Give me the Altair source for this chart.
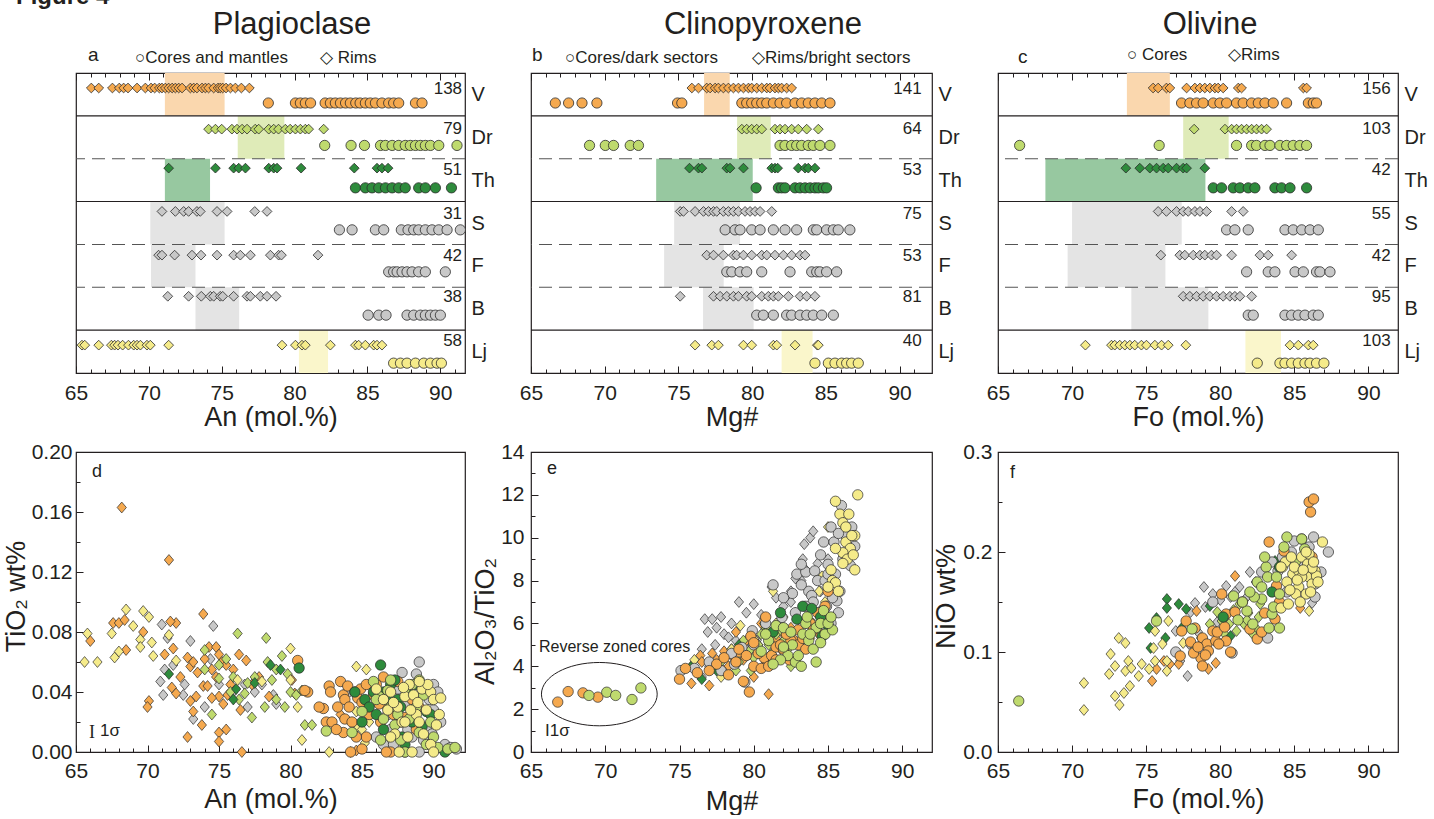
import altair as alt
import pandas as pd

FONT = "Liberation Sans"
INK = "#231f20"
EDGE = "#2b2b2b"

ROWS = ["V", "Dr", "Th", "S", "F", "B", "Lj"]
ROW_GROUP = {"V": "V", "Dr": "Dr", "Th": "Th", "S": "SFB", "F": "SFB", "B": "SFB", "Lj": "Lj"}
MARK_COLOR = {"V": "#f5a94f", "Dr": "#bfda6e", "Th": "#2e8b3c", "SFB": "#c8c8c8", "Lj": "#f5eb8a"}
SHADE_COLOR = {"V": "#fad7ae", "Dr": "#dfebb8", "Th": "#97c8a0", "SFB": "#e4e4e4", "Lj": "#faf6cb"}

# ---------------- top row: compositional ranges per unit ----------------
PL_COUNTS = [138, 79, 51, 31, 42, 38, 58]
PL_SHADES = [(71.1, 75.2), (76.1, 79.3), (71.1, 74.2), (70.1, 75.2), (70.15, 73.2), (73.2, 76.2), (80.3, 82.3)]
PL_RIMS = {
    "V": [66.05, 66.56, 67.5, 67.97, 68.27, 68.57, 69.19, 69.76, 70.15, 70.4, 70.72, 70.9, 71.13, 71.36, 71.6,
          71.82, 72.05, 72.28, 72.85, 73.08, 73.3, 73.65, 73.88, 74.1, 74.45, 74.75, 74.9, 75.07, 75.3, 75.6,
          75.94, 76.35, 76.9],
    "Dr": [74.1, 74.57, 75.0, 75.7, 76.05, 76.4, 76.74, 77.3, 77.54, 78.23, 78.57, 78.9, 79.37, 79.7, 80.06,
           80.4, 80.74, 80.97, 82.0],
    "Th": [71.36, 74.57, 75.82, 76.17, 76.63, 78.23, 78.57, 78.8, 80.45, 84.1, 85.66, 86.0, 86.42],
    "S": [70.9, 71.82, 72.39, 72.73, 73.3, 73.53, 74.68, 75.37, 77.27, 78.11],
    "F": [70.67, 70.9, 71.77, 72.96, 73.58, 74.68, 75.82, 76.28, 76.97, 78.34, 78.91, 79.1, 81.61],
    "B": [71.3, 72.73, 73.6, 74.22, 74.45, 74.9, 75.07, 75.82, 76.74, 76.97, 77.65, 78.11, 78.73],
    "Lj": [65.41, 65.6, 66.56, 67.43, 67.65, 67.88, 68.2, 68.6, 68.96, 69.19, 69.42, 69.87, 70.1, 71.36, 79.14,
           80.06, 80.51, 80.74, 82.46, 84.18, 84.4, 84.86, 85.43, 85.66, 86.0],
}
PL_CORES = {
    "V": [78.2, 80.06, 80.4, 80.74, 81.1, 82.1, 82.46, 82.8, 83.15, 83.5, 83.83, 84.2, 84.5, 84.86, 85.2, 85.55,
          86.0, 86.46, 86.8, 87.15, 88.3, 88.75],
    "Dr": [82.07, 83.88, 84.8, 85.9, 86.24, 86.7, 87.15, 87.6, 87.95, 88.3, 88.64, 88.98, 89.33, 89.9, 91.15],
    "Th": [84.18, 84.86, 85.32, 85.78, 86.24, 86.7, 87.15, 87.6, 88.52, 88.98, 89.67, 90.77],
    "S": [83.08, 83.95, 85.55, 86.12, 87.33, 87.79, 88.18, 88.52, 88.98, 89.44, 89.9, 90.47, 91.38],
    "F": [86.46, 86.8, 87.04, 87.38, 87.72, 88.07, 88.52, 88.98, 90.35],
    "B": [85.05, 85.78, 86.28, 87.72, 88.18, 88.64, 88.98, 89.33, 89.67, 90.01],
    "Lj": [86.8, 87.27, 87.72, 88.3, 88.87, 89.33, 89.78, 90.08],
}

CPX_COUNTS = [141, 64, 53, 75, 53, 81, 40]
CPX_SHADES = [(76.74, 78.48), (78.98, 81.26), (73.49, 80.04), (74.71, 79.18), (74.03, 78.07), (76.67, 80.1), (82.0, 84.1)]
CPX_RIMS = {
    "V": [75.91, 76.36, 76.92, 77.15, 77.49, 77.71, 78.05, 78.39, 78.73, 79.07, 79.41, 79.75, 79.97, 80.31, 80.65,
          80.99, 81.21, 81.55, 81.78, 82.0, 82.34, 82.68],
    "Dr": [79.3, 79.63, 79.97, 80.31, 80.65, 81.55, 81.89, 82.23, 82.68, 83.13, 83.7, 84.49],
    "Th": [75.75, 76.36, 76.59, 78.28, 78.5, 79.41, 81.33, 81.55, 81.73, 83.13, 83.59, 83.81, 84.26],
    "S": [75.12, 75.34, 76.13, 76.7, 77.04, 77.38, 77.6, 78.05, 78.39, 78.73, 79.07, 79.52, 79.86, 80.2, 80.54, 81.33],
    "F": [76.92, 77.38, 78.05, 78.73, 78.95, 79.41, 79.97, 80.65, 80.99, 81.55, 82.12, 82.68, 83.25, 83.59],
    "B": [75.12, 77.38, 77.83, 78.28, 78.73, 79.07, 79.63, 79.97, 80.65, 81.1, 81.44, 81.78, 82.46, 83.25, 83.7, 84.26],
    "Lj": [76.13, 77.26, 77.71, 79.41, 79.97, 81.44, 81.67, 82.91, 84.42, 84.49],
}
CPX_CORES = {
    "V": [66.65, 67.55, 68.46, 69.47, 74.94, 75.23, 79.3, 79.63, 79.97, 80.31, 80.65, 80.99, 81.44, 81.89, 82.34,
          82.91, 83.36, 83.81, 84.26, 84.72, 85.28],
    "Dr": [68.97, 70.04, 70.6, 71.73, 72.29, 81.89, 82.23, 82.68, 83.02, 83.36, 83.81, 84.15, 84.6, 85.28],
    "Th": [80.27, 81.78, 82.0, 82.23, 82.91, 83.25, 83.59, 83.93, 84.26, 84.49, 84.83, 85.05],
    "S": [78.17, 78.84, 79.18, 79.97, 80.54, 81.44, 82.23, 83.02, 84.15, 84.38, 85.05, 85.51, 85.84, 86.63],
    "F": [78.28, 78.62, 79.18, 79.63, 80.65, 82.57, 84.04, 84.38, 84.6, 85.05, 85.73],
    "B": [80.31, 80.76, 81.44, 82.34, 82.68, 83.25, 83.7, 84.15, 84.72, 85.51],
    "Lj": [84.26, 85.17, 85.62, 86.07, 86.41, 86.75, 87.2],
}

OL_COUNTS = [156, 103, 42, 55, 42, 95, 103]
OL_SHADES = [(73.7, 76.6), (77.5, 80.57), (68.2, 79.0), (70.0, 77.4), (69.7, 76.3), (74.0, 79.2), (81.7, 84.1)]
OL_RIMS = {
    "V": [75.47, 75.81, 76.37, 76.6, 77.73, 78.29, 78.63, 78.96, 79.3, 79.64, 79.86, 80.2, 81.22, 81.44, 85.61, 85.83],
    "Dr": [78.24, 80.32, 80.77, 81.1, 81.44, 81.78, 82.12, 82.45, 82.79, 83.13],
    "Th": [73.63, 74.57, 75.25, 75.7, 76.15, 76.49, 77.05, 77.5, 77.73, 78.96],
    "S": [75.81, 76.37, 77.05, 77.5, 77.84, 78.29, 78.63, 79.08, 80.77, 81.55],
    "F": [75.99, 77.27, 77.61, 78.18, 78.63, 78.96, 79.41, 79.75, 80.77, 82.68, 83.24, 84.82],
    "B": [77.5, 77.95, 78.4, 78.85, 79.3, 79.75, 80.2, 80.65, 80.99, 81.33, 82.12],
    "Lj": [70.9, 72.66, 72.88, 73.22, 73.56, 73.9, 74.23, 74.68, 75.02, 75.59, 76.04, 76.49, 77.68, 84.71, 85.27,
           85.95, 86.28],
}
OL_CORES = {
    "V": [77.39, 77.95, 78.4, 78.85, 79.53, 79.98, 80.43, 81.1, 81.55, 82.12, 82.57, 83.02, 83.58, 84.48, 85.95,
          86.28, 86.5],
    "Dr": [66.46, 75.88, 81.1, 82.12, 82.45, 83.02, 83.36, 84.03, 84.48, 84.93, 85.38, 85.83],
    "Th": [79.53, 80.09, 80.88, 81.33, 81.89, 82.34, 83.69, 84.14, 84.71, 85.83],
    "S": [80.43, 80.99, 81.89, 84.37, 84.93, 85.5, 86.06, 86.62],
    "F": [81.78, 83.24, 83.69, 85.05, 85.61, 86.5, 86.73, 87.41],
    "B": [81.89, 82.23, 84.37, 84.82, 85.27, 85.72, 86.28, 86.62],
    "Lj": [82.5, 84.03, 84.37, 84.82, 85.27, 85.72, 86.06, 86.5, 87.0],
}

# ---------------- bottom row: scatter data (x, y) ----------------
D_SFB_RIMS = [(70.9, 0.047), (71.1, 0.038), (71.0, 0.085), (71.4, 0.076), (71.2, 0.055), (71.8, 0.058), (72.6, 0.045),
              (73.0, 0.074), (72.5, 0.038), (73.2, 0.022), (74.6, 0.084), (74.4, 0.062), (75.0, 0.045), (76.0, 0.040),
              (76.8, 0.045), (77.5, 0.040), (78.0, 0.045), (78.8, 0.038), (79.0, 0.032), (77.0, 0.030), (74.0, 0.030)]
D_V_RIMS = [(68.2, 0.163), (71.5, 0.128), (67.6, 0.086), (68.0, 0.086), (68.4, 0.088), (68.5, 0.068), (66.0, 0.074),
            (69.7, 0.080), (72.0, 0.086), (71.6, 0.087), (70.1, 0.034), (70.0, 0.030), (71.2, 0.065), (71.8, 0.069),
            (71.7, 0.043), (72.0, 0.039), (72.8, 0.063), (73.0, 0.057), (73.2, 0.060), (73.5, 0.053), (73.9, 0.044),
            (73.4, 0.037), (73.2, 0.027), (72.8, 0.010), (73.8, 0.018), (73.9, 0.092), (74.3, 0.070), (74.8, 0.070),
            (75.0, 0.065), (75.2, 0.060), (74.5, 0.055), (74.8, 0.050), (75.5, 0.058), (75.0, 0.037), (74.5, 0.036),
            (75.3, 0.032), (75.6, 0.038), (75.0, 0.013), (75.0, 0.007), (75.5, 0.015), (76.4, 0.065), (76.5, 0.028),
            (76.9, 0.061), (77.3, 0.045), (76.6, 0.000), (75.8, 0.045), (78.5, 0.037), (80.1, 0.048), (80.3, 0.039),
            (83.5, 0.025), (84.6, 0.001), (72.3, 0.050), (74.0, 0.062), (76.0, 0.055), (77.8, 0.050), (74.2, 0.044),
            (73.0, 0.034)]
D_DR_RIMS = [(74.0, 0.068), (74.0, 0.055), (75.0, 0.058), (75.5, 0.062), (76.3, 0.079), (76.0, 0.050), (76.4, 0.035),
             (77.0, 0.046), (77.5, 0.050), (77.3, 0.023), (78.3, 0.076), (78.4, 0.060), (78.2, 0.030), (78.7, 0.048),
             (79.0, 0.035), (79.4, 0.064), (79.6, 0.030), (80.0, 0.040), (80.4, 0.038), (80.8, 0.041), (81.0, 0.018),
             (81.5, 0.018), (74.5, 0.025), (75.0, 0.049), (75.8, 0.040), (76.8, 0.039), (79.8, 0.052), (79.0, 0.055)]
D_TH_RIMS = [(71.5, 0.052), (76.0, 0.035), (77.5, 0.046), (78.6, 0.058), (79.3, 0.055), (76.2, 0.042)]
D_LJ_RIMS = [(65.6, 0.060), (65.8, 0.079), (66.5, 0.060), (67.5, 0.079), (67.7, 0.063), (68.0, 0.067), (68.5, 0.095),
             (69.0, 0.084), (69.5, 0.075), (69.5, 0.070), (69.7, 0.094), (70.1, 0.090), (70.3, 0.073), (70.4, 0.064),
             (71.5, 0.078), (72.0, 0.061), (76.3, 0.048), (78.0, 0.047), (80.0, 0.069), (80.0, 0.048), (80.5, 0.030),
             (80.8, 0.008), (82.7, 0.000), (84.2, 0.000), (84.6, 0.057), (85.3, 0.055), (84.6, 0.027), (84.7, 0.017),
             (85.0, 0.015), (85.5, 0.020), (85.2, 0.006)]
D_SFB_CORES = [(89.0, 0.060), (87.8, 0.053), (90.0, 0.045), (89.7, 0.035), (90.5, 0.020), (90.8, 0.005), (91.2, 0.003),
               (91.6, 0.002), (88.5, 0.010), (89.5, 0.015), (90.0, 0.028), (88.0, 0.032), (87.0, 0.015), (86.5, 0.005),
               (84.0, 0.040), (86.8, 0.025), (87.5, 0.042), (88.2, 0.015), (88.8, 0.052), (89.3, 0.008), (89.9, 0.012),
               (90.3, 0.040), (87.2, 0.005), (88.0, 0.000), (89.0, 0.000), (86.0, 0.010)]
D_V_CORES = [(80.5, 0.061), (81.2, 0.040), (82.3, 0.029), (82.5, 0.020), (82.7, 0.044), (82.8, 0.040), (83.3, 0.030),
             (83.5, 0.047), (83.7, 0.038), (83.8, 0.035), (84.0, 0.044), (84.1, 0.030), (84.5, 0.040), (84.7, 0.036),
             (83.7, 0.013), (84.2, 0.000), (85.0, 0.002), (85.3, 0.010), (85.5, 0.025), (86.0, 0.045), (86.5, 0.050),
             (86.8, 0.030), (87.0, 0.000), (87.5, 0.047), (87.7, 0.020), (88.0, 0.023), (88.5, 0.035), (89.0, 0.030),
             (83.8, 0.022), (86.3, 0.020), (85.8, 0.038), (84.9, 0.042), (81.0, 0.041), (82.0, 0.030), (82.9, 0.020),
             (83.2, 0.015), (84.3, 0.020), (85.0, 0.033), (85.3, 0.045), (86.2, 0.032), (87.2, 0.025), (88.8, 0.015),
             (84.6, 0.010), (86.7, 0.000)]
D_TH_CORES = [(80.6, 0.056), (84.5, 0.040), (85.2, 0.035), (85.5, 0.030), (86.3, 0.058), (86.5, 0.040), (86.0, 0.025),
              (87.0, 0.045), (87.3, 0.048), (87.5, 0.035), (87.8, 0.010), (88.2, 0.040), (88.8, 0.045), (89.5, 0.027),
              (89.2, 0.017), (90.8, 0.000), (86.5, 0.015), (88.0, 0.005), (85.8, 0.040), (86.8, 0.035), (87.7, 0.030),
              (88.5, 0.020), (89.8, 0.025), (85.0, 0.020)]
D_DR_CORES = [(82.5, 0.014), (84.3, 0.013), (85.0, 0.027), (85.8, 0.047), (86.2, 0.037), (86.5, 0.022), (87.0, 0.030),
              (87.5, 0.025), (87.7, 0.008), (88.3, 0.022), (88.8, 0.030), (89.0, 0.048), (89.3, 0.038), (89.0, 0.013),
              (89.5, 0.005), (90.3, 0.003), (91.0, 0.002), (91.5, 0.003), (88.0, 0.042), (86.8, 0.041), (86.0, 0.035),
              (87.3, 0.018), (88.5, 0.045), (89.8, 0.020), (90.0, 0.010), (87.0, 0.048), (86.3, 0.008), (88.0, 0.000)]
D_LJ_CORES = [(86.0, 0.042), (86.5, 0.035), (87.0, 0.040), (87.5, 0.030), (87.8, 0.020), (88.0, 0.037), (88.3, 0.045),
              (88.6, 0.038), (88.8, 0.025), (89.0, 0.020), (89.2, 0.042), (89.5, 0.028), (89.8, 0.040), (90.0, 0.035),
              (90.2, 0.018), (90.5, 0.036), (88.5, 0.000), (87.3, 0.012), (89.8, 0.005), (88.0, 0.020), (87.0, 0.010),
              (86.8, 0.028), (87.2, 0.033), (87.9, 0.043), (88.4, 0.028), (88.9, 0.033), (89.3, 0.012), (89.6, 0.045),
              (90.4, 0.025), (89.0, 0.047), (88.2, 0.010), (87.6, 0.000), (90.0, 0.000)]

E_SFB_RIMS = [(76.7, 6.2), (77.2, 6.2), (76.9, 5.6), (77.5, 5.8), (78.5, 6.0), (78.0, 5.5), (79.0, 7.0), (79.5, 6.5),
              (80.0, 6.9), (80.5, 6.4), (81.5, 7.2), (82.0, 6.8), (82.5, 7.0), (83.3, 9.0), (83.5, 8.5), (83.8, 10.0),
              (84.0, 10.3), (83.2, 8.0), (84.3, 8.8), (84.5, 7.5), (78.0, 4.5), (76.5, 4.8), (77.0, 4.0), (76.3, 3.6),
              (80.2, 5.2), (81.0, 5.5), (79.5, 4.8), (82.5, 7.5), (84.8, 8.2), (85.0, 9.0), (77.8, 6.3), (78.8, 5.2),
              (81.2, 7.7), (82.8, 8.1), (83.4, 9.7), (77.4, 5.0), (78.3, 5.35), (76.5, 3.5)]
E_V_RIMS = [(75.8, 4.0), (75.8, 3.2), (76.4, 4.5), (76.5, 4.2), (77.0, 3.1), (77.2, 4.6), (77.5, 4.3), (78.0, 4.7),
            (78.3, 4.0), (78.8, 5.6), (79.0, 4.6), (79.5, 5.2), (80.0, 3.5), (80.3, 5.0), (80.8, 5.5), (81.0, 2.7),
            (81.5, 5.3), (82.0, 5.5), (82.5, 5.8), (83.5, 6.0), (84.5, 6.5), (84.3, 5.8), (78.5, 4.5), (80.5, 6.0),
            (77.8, 3.9), (79.3, 4.3), (80.8, 4.2), (81.8, 4.8), (82.8, 5.2), (83.8, 5.3)]
E_DR_RIMS = [(77.8, 4.2), (78.5, 4.8), (78.8, 3.8), (79.3, 5.2), (79.8, 4.8), (80.3, 5.0), (80.8, 5.8), (81.2, 4.6),
             (81.5, 5.5), (82.0, 5.2), (82.5, 4.0), (83.0, 5.0), (83.0, 6.2), (83.7, 6.0), (84.2, 5.7), (79.8, 3.8),
             (81.0, 5.0), (79.0, 4.2), (80.0, 4.4), (80.5, 5.5), (81.8, 5.7), (82.3, 4.8), (83.3, 5.4)]
E_TH_RIMS = [(75.8, 4.0), (76.5, 3.4), (77.5, 3.8), (79.0, 5.0), (80.7, 6.0), (81.0, 5.4)]
E_LJ_RIMS = [(76.0, 4.3), (77.0, 3.9), (77.8, 3.5), (78.5, 4.8), (79.1, 5.9), (80.0, 5.3), (81.3, 7.5), (81.5, 6.0),
             (82.8, 6.5), (84.0, 6.0), (84.6, 8.2), (84.8, 7.0), (85.0, 10.5), (84.4, 7.5), (82.0, 6.3)]
E_SFB_CORES = [(81.3, 7.8), (82.6, 7.4), (82.9, 8.3), (83.5, 8.4), (84.7, 9.8), (85.4, 9.8), (85.9, 11.5), (86.6, 10.5),
               (86.3, 10.0), (86.4, 9.3), (85.8, 7.5), (85.6, 7.05), (85.7, 6.5), (85.0, 8.76), (84.1, 8.45), (83.7, 7.5),
               (83.2, 8.76), (83.9, 7.3), (84.3, 8.0), (84.8, 8.0), (85.3, 7.2), (79.9, 5.66), (79.2, 4.88),
               (78.7, 4.1), (77.8, 3.8), (75.1, 3.8), (79.4, 3.26), (81.9, 6.28), (84.6, 6.6), (83.2, 7.8),
               (85.0, 8.3), (86.2, 10.1), (86.5, 8.7), (85.2, 6.0), (84.5, 9.2), (85.2, 10.5), (85.7, 10.2),
               (86.0, 9.0), (85.5, 8.3), (84.0, 7.0), (83.5, 6.8), (82.8, 6.5), (82.0, 7.2), (80.8, 6.0), (80.0, 5.0),
               (78.5, 4.6), (77.0, 4.2), (76.0, 3.9), (86.8, 9.6), (84.9, 6.8)]
E_V_CORES = [(75.0, 3.4), (75.4, 3.9), (77.5, 4.1), (78.3, 3.6), (79.0, 4.8), (79.3, 3.3), (79.7, 2.8), (80.0, 4.0),
             (80.5, 3.9), (80.7, 4.4), (81.2, 4.5), (81.5, 4.9), (81.8, 5.0), (82.0, 4.8), (82.5, 5.2), (83.0, 5.0),
             (83.3, 5.3), (83.8, 6.0), (84.3, 6.5), (84.5, 5.5), (85.0, 7.5), (85.0, 6.3), (80.8, 6.3), (79.8, 5.4),
             (82.4, 4.3), (76.2, 3.7), (77.0, 3.8), (78.0, 4.4), (78.8, 4.2), (79.5, 4.5), (80.3, 4.6), (81.0, 4.0),
             (81.5, 4.3), (82.2, 5.5), (83.5, 4.8), (84.0, 5.7), (84.8, 6.8), (83.0, 5.7), (80.0, 5.1)]
E_REV_V = [(66.8, 2.33), (67.5, 2.82), (68.5, 2.76), (69.5, 2.56)]
E_REV_DR = [(68.9, 2.64), (70.1, 2.79), (70.7, 2.64), (71.8, 2.45), (72.4, 2.99)]
E_TH_CORES = [(81.8, 6.5), (83.3, 6.8), (83.9, 6.7), (84.5, 6.3), (85.0, 5.9), (84.6, 5.4), (81.3, 5.6), (82.9, 6.2)]
E_DR_CORES = [(80.5, 4.7), (81.0, 5.2), (81.5, 5.9), (82.0, 5.8), (82.3, 4.5), (82.8, 4.2), (83.0, 4.5), (83.3, 5.5),
              (83.5, 6.0), (83.7, 5.2), (84.0, 4.8), (84.2, 5.8), (84.5, 6.0), (84.8, 5.5), (85.3, 5.7), (84.2, 4.2),
              (83.6, 6.3), (84.7, 6.6), (85.0, 6.0), (82.6, 5.0), (81.8, 4.3), (81.3, 4.1), (82.5, 5.6), (83.2, 4.0),
              (83.8, 5.5), (84.5, 5.1), (85.2, 6.3), (82.0, 4.9), (80.8, 5.5)]
E_LJ_CORES = [(85.2, 8.5), (85.3, 8.0), (85.5, 7.9), (85.5, 11.7), (85.8, 11.1), (86.0, 10.7), (86.2, 10.5),
              (86.4, 11.1), (86.2, 9.8), (86.5, 9.5), (86.0, 9.3), (85.5, 9.5), (86.3, 9.0), (86.7, 9.2), (86.8, 10.1),
              (87.0, 12.0), (86.0, 8.8), (86.8, 8.5), (85.7, 7.5), (85.0, 7.7), (86.6, 10.1)]

F_SFB_RIMS = [(78.9, 0.165), (78.3, 0.149), (82.0, 0.180), (80.4, 0.166), (77.8, 0.076), (77.3, 0.091), (80.7, 0.155),
              (81.3, 0.165), (79.5, 0.158), (77.9, 0.108), (86.2, 0.149), (77.0, 0.121), (78.0, 0.140), (79.0, 0.145),
              (80.0, 0.152), (79.8, 0.130), (81.0, 0.160), (82.4, 0.170), (78.5, 0.120), (81.8, 0.155)]
F_V_RIMS = [(75.4, 0.071), (75.7, 0.083), (76.2, 0.091), (76.6, 0.088), (79.2, 0.083), (79.7, 0.089), (78.7, 0.108),
            (81.0, 0.176), (85.4, 0.144), (78.4, 0.141), (77.2, 0.088)]
F_DR_RIMS = [(80.1, 0.131), (80.6, 0.128), (81.1, 0.121), (81.6, 0.128), (81.9, 0.139), (82.4, 0.124), (82.2, 0.118),
             (79.3, 0.128), (78.7, 0.114), (81.3, 0.148), (82.7, 0.148), (78.3, 0.103), (79.8, 0.140), (80.3, 0.118),
             (81.8, 0.132), (82.6, 0.135), (80.9, 0.142)]
F_TH_RIMS = [(75.2, 0.124), (76.4, 0.153), (76.4, 0.144), (77.2, 0.148), (77.7, 0.143), (75.3, 0.104), (75.7, 0.134),
             (76.3, 0.114), (77.4, 0.124), (79.3, 0.146), (80.7, 0.116), (83.7, 0.191)]
F_LJ_RIMS = [(70.8, 0.069), (70.8, 0.042), (73.15, 0.114), (73.6, 0.109), (72.6, 0.098), (72.5, 0.078), (72.9, 0.086),
             (72.9, 0.056), (73.2, 0.047), (73.5, 0.059), (73.6, 0.081), (73.9, 0.066), (73.8, 0.091), (74.0, 0.084),
             (74.5, 0.076), (74.7, 0.088), (75.2, 0.083), (75.6, 0.091), (75.5, 0.104), (76.1, 0.108), (76.4, 0.091),
             (76.4, 0.081), (75.6, 0.121), (76.5, 0.131), (77.5, 0.109), (86.0, 0.141)]
F_SFB_CORES = [(80.8, 0.099), (83.2, 0.114), (87.3, 0.200), (86.4, 0.155), (86.3, 0.215), (85.5, 0.213), (86.4, 0.168),
               (85.0, 0.211), (83.9, 0.181), (77.0, 0.100), (79.5, 0.150), (84.5, 0.160), (82.8, 0.180), (84.2, 0.195),
               (85.5, 0.190), (86.8, 0.180), (86.0, 0.205), (84.8, 0.200), (83.5, 0.190)]
F_V_CORES = [(86.1, 0.240), (86.0, 0.250), (86.3, 0.253), (83.3, 0.210), (80.1, 0.158), (80.4, 0.138), (77.7, 0.131),
             (78.3, 0.124), (78.8, 0.114), (79.1, 0.108), (79.5, 0.121), (79.7, 0.111), (79.2, 0.101), (78.7, 0.094),
             (78.2, 0.099), (77.4, 0.121), (77.3, 0.096), (78.8, 0.086), (80.4, 0.111), (79.9, 0.108), (82.5, 0.113),
             (83.0, 0.139), (83.8, 0.166), (83.7, 0.133), (84.3, 0.201), (86.2, 0.195), (78.0, 0.110), (78.5, 0.105),
             (79.0, 0.097), (79.8, 0.120), (80.3, 0.125), (81.0, 0.140), (81.5, 0.150), (82.0, 0.123), (82.8, 0.120),
             (84.0, 0.150), (80.7, 0.100)]
F_TH_CORES = [(84.0, 0.185), (83.5, 0.160), (80.2, 0.135)]
F_DR_CORES = [(66.4, 0.051), (84.5, 0.215), (85.5, 0.213), (83.1, 0.185), (83.2, 0.175), (82.5, 0.170), (82.8, 0.153),
              (83.3, 0.124), (83.5, 0.138), (82.3, 0.155), (81.8, 0.141), (80.9, 0.156), (84.0, 0.158), (85.1, 0.191),
              (85.7, 0.203), (78.1, 0.123), (75.7, 0.131), (84.0, 0.124), (82.0, 0.160), (81.5, 0.150), (82.8, 0.165),
              (83.8, 0.175), (84.3, 0.205), (83.0, 0.195), (81.2, 0.132), (82.2, 0.128), (83.6, 0.145)]
F_LJ_CORES = [(84.1, 0.144), (84.6, 0.148), (84.2, 0.185), (84.9, 0.178), (85.3, 0.165), (85.5, 0.195), (85.9, 0.188),
              (86.0, 0.175), (86.2, 0.168), (86.4, 0.181), (86.5, 0.176), (86.0, 0.198), (86.9, 0.210), (85.1, 0.158),
              (84.5, 0.170), (85.3, 0.181), (85.8, 0.158), (86.2, 0.184), (85.5, 0.175), (84.4, 0.190), (84.1, 0.185),
              (85.0, 0.185), (85.6, 0.182), (86.3, 0.190), (85.2, 0.172), (84.7, 0.162), (86.6, 0.170), (85.8, 0.200),
              (84.8, 0.195), (85.4, 0.150), (86.1, 0.160)]

# ---------------- styles ----------------
RIM_OFFSET = [0.35, 0.31, 0.22, 0.23, 0.25, 0.21, 0.35]
CORE_OFFSET = [0.70, 0.69, 0.68, 0.66, 0.64, 0.65, 0.77]
COUNT_OFFSET = [0.37, 0.31, 0.26, 0.30, 0.28, 0.22, 0.25]
COUNT_X = 91.5
SOLID_LINES = [1, 3, 6]
DASHED_LINES = [2, 4, 5]
MAJOR_X = [65, 70, 75, 80, 85, 90]
MINOR_X = list(range(66, 92))
TALL_DIAMOND = "M0,-1L0.85,0L0,1L-0.85,0Z"
ELLIPSE = "M-1,0A1,0.547,0,1,0,1,0A1,0.547,0,1,0,-1,0Z"
TOP_H = 300
BOT_H = 300


def note(text, x, y, size, align="left", weight="normal", font=FONT):
    return alt.Chart(pd.DataFrame({"t": [text]})).mark_text(
        align=align, baseline="alphabetic", font=font, fontSize=size,
        fontWeight=weight, color=INK).encode(x=alt.value(x), y=alt.value(y), text="t:N")


def bottom_major(title, lp, title_y, width):
    return alt.Axis(orient="bottom", values=MAJOR_X, tickSize=7, offset=-7, domain=False, grid=False,
                    labelFont=FONT, labelFontSize=21, labelColor=INK, labelPadding=lp, labelFlush=False,
                    labelOverlap=False, tickColor=INK, tickWidth=1, title=title, titleFont=FONT,
                    titleFontSize=27, titleFontWeight="normal", titleColor=INK, titleX=width / 2,
                    titleY=title_y, titleBaseline="alphabetic", titleAlign="center")


def minor_axis(orient, values):
    return alt.Axis(orient=orient, values=values, tickSize=4, offset=-4, domain=False, grid=False,
                    labels=False, title=None, tickColor=INK, tickWidth=1)


def top_major():
    return alt.Axis(orient="top", values=MAJOR_X, tickSize=7, offset=-7, domain=False, grid=False,
                    labels=False, title=None, tickColor=INK, tickWidth=1)


def strip_panel(rims, cores, counts, shades, xmax, width, xtitle, notes):
    xs = alt.Scale(domain=[65, xmax], nice=False, zero=False)
    ys = alt.Scale(domain=[0, 7], reverse=True, nice=False, zero=False)
    rim_rows, core_rows, shade_rows, count_rows = [], [], [], []
    for i, r in enumerate(ROWS):
        g = ROW_GROUP[r]
        for v in rims[r]:
            rim_rows.append({"x": v, "y": i + RIM_OFFSET[i], "c": MARK_COLOR[g]})
        for v in cores[r]:
            core_rows.append({"x": v, "y": i + CORE_OFFSET[i], "c": MARK_COLOR[g]})
        lo, hi = shades[i]
        shade_rows.append({"x": lo, "x2": hi, "y": i, "y2": i + 1, "c": SHADE_COLOR[g]})
        count_rows.append({"x": COUNT_X, "y": i + COUNT_OFFSET[i], "t": str(counts[i])})

    row_axis = alt.Axis(orient="right", values=[i + 0.5 for i in range(len(ROWS))],
                        labelExpr="['V','Dr','Th','S','F','B','Lj'][floor(datum.value)]",
                        ticks=False, domain=False, grid=False, labelFont=FONT, labelFontSize=20,
                        labelColor=INK, labelPadding=6, title=None)
    shade = alt.Chart(pd.DataFrame(shade_rows)).mark_rect().encode(
        x=alt.X("x:Q", scale=xs, axis=bottom_major(xtitle, 9, 59, width)), x2="x2:Q",
        y=alt.Y("y:Q", scale=ys, axis=row_axis), y2="y2:Q",
        fill=alt.Fill("c:N", scale=None))
    solid = alt.Chart(pd.DataFrame({"y": SOLID_LINES})).mark_rule(color=INK, strokeWidth=1.1).encode(
        y=alt.Y("y:Q", scale=ys, axis=None))
    dashed = alt.Chart(pd.DataFrame({"y": DASHED_LINES})).mark_rule(
        color="#555555", strokeWidth=1.1, strokeDash=[13, 7]).encode(y=alt.Y("y:Q", scale=ys, axis=None))
    rim_layer = alt.Chart(pd.DataFrame(rim_rows)).mark_point(
        shape="diamond", filled=True, size=95, stroke=EDGE, strokeWidth=0.8, opacity=1).encode(
        x=alt.X("x:Q", scale=xs, axis=minor_axis("bottom", MINOR_X)),
        y=alt.Y("y:Q", scale=ys, axis=None), fill=alt.Fill("c:N", scale=None))
    core_layer = alt.Chart(pd.DataFrame(core_rows)).mark_point(
        shape="circle", filled=True, size=105, stroke=EDGE, strokeWidth=0.8, opacity=1).encode(
        x=alt.X("x:Q", scale=xs, axis=top_major()),
        y=alt.Y("y:Q", scale=ys, axis=None), fill=alt.Fill("c:N", scale=None))
    count_layer = alt.Chart(pd.DataFrame(count_rows)).mark_text(
        align="right", baseline="middle", font=FONT, fontSize=17, color=INK).encode(
        x=alt.X("x:Q", scale=xs, axis=minor_axis("top", MINOR_X)),
        y=alt.Y("y:Q", scale=ys, axis=None), text="t:N")
    layers = [shade, solid, dashed, rim_layer, core_layer, count_layer] + notes
    return alt.layer(*layers).resolve_axis(x="independent", y="independent").properties(
        width=width, height=TOP_H)


def frame(groups):
    rows = []
    for pts, g in groups:
        for x, y in pts:
            rows.append({"x": x, "y": y, "c": MARK_COLOR[g]})
    return pd.DataFrame(rows)


def scatter_panel(diamonds, circles, xmax, ymax, yvals, yminor, yfmt, ytitle, ytx, yty, ylp, width, xtitle,
                  xty, notes, extra=None):
    xs = alt.Scale(domain=[65, xmax], nice=False, zero=False)
    ys = alt.Scale(domain=[0, ymax], nice=False, zero=False)
    left_major = alt.Axis(orient="left", values=yvals, format=yfmt, tickSize=7, offset=-7, domain=False,
                          grid=False, labelFont=FONT, labelFontSize=21, labelColor=INK, labelPadding=ylp,
                          labelFlush=False, labelOverlap=False, tickColor=INK, tickWidth=1, title=ytitle,
                          titleFont=FONT, titleFontSize=27, titleFontWeight="normal", titleColor=INK,
                          titleAngle=270, titleX=ytx, titleY=yty, titleBaseline="middle", titleAlign="center")
    dl = alt.Chart(frame(diamonds)).mark_point(
        shape=TALL_DIAMOND, filled=True, size=118, stroke=EDGE, strokeWidth=0.7, opacity=1).encode(
        x=alt.X("x:Q", scale=xs, axis=bottom_major(xtitle, 8, xty, width)),
        y=alt.Y("y:Q", scale=ys, axis=left_major), fill=alt.Fill("c:N", scale=None))
    cl = alt.Chart(frame(circles)).mark_point(
        shape="circle", filled=True, size=108, stroke=EDGE, strokeWidth=0.7, opacity=1).encode(
        x=alt.X("x:Q", scale=xs, axis=minor_axis("bottom", MINOR_X)),
        y=alt.Y("y:Q", scale=ys, axis=minor_axis("left", yminor)), fill=alt.Fill("c:N", scale=None))
    layers = [dl, cl]
    if extra is not None:
        layers += extra(xs, ys)
    layers += notes
    return alt.layer(*layers).resolve_axis(x="independent", y="independent").properties(
        width=width, height=BOT_H)


# ---------------- panels ----------------
panel_a = strip_panel(PL_RIMS, PL_CORES, PL_COUNTS, PL_SHADES, 91.7, 389, "An (mol.%)", [
    note("Figure 4", -60, -69, 24, weight="bold"),
    note("Plagioclase", 216, -39, 31, align="center"),
    note("a", 12, -12, 19),
    note("\u25cbCores and mantles", 59, -10, 17),
    note("\u25c7 Rims", 244, -10, 17),
])
panel_b = strip_panel(CPX_RIMS, CPX_CORES, CPX_COUNTS, CPX_SHADES, 92.2, 401, "Mg#", [
    note("Clinopyroxene", 232, -39, 31, align="center"),
    note("b", 1, -12, 19),
    note("\u25cbCores/dark sectors", 34, -10, 17),
    note("\u25c7Rims/bright sectors", 221, -10, 17),
])
panel_c = strip_panel(OL_RIMS, OL_CORES, OL_COUNTS, OL_SHADES, 92.0, 400, "Fo (mol.%)", [
    note("Olivine", 212, -39, 31, align="center"),
    note("c", 20, -10, 19),
    note("\u25cb Cores", 129, -13, 17),
    note("\u25c7Rims", 230, -13, 17),
])

panel_d = scatter_panel(
    [(D_SFB_RIMS, "SFB"), (D_V_RIMS, "V"), (D_DR_RIMS, "Dr"), (D_TH_RIMS, "Th"), (D_LJ_RIMS, "Lj")],
    [(D_SFB_CORES, "SFB"), (D_V_CORES, "V"), (D_TH_CORES, "Th"), (D_DR_CORES, "Dr"), (D_LJ_CORES, "Lj")],
    92.2, 0.20, [0, 0.04, 0.08, 0.12, 0.16, 0.20], [0.02, 0.06, 0.10, 0.14, 0.18], ".2f",
    "TiO\u2082 wt%", -67, 144, 4, 389, "An (mol.%)", 62, [
        note("d", 16, 25, 18),
        note("I", 13, 286, 18, font="Liberation Serif"),
        note("1\u03c3", 24, 284, 17),
    ])


def ellipse_layer(xs, ys):
    return [alt.Chart(pd.DataFrame({"x": [69.6], "y": [2.7]})).mark_point(
        shape=ELLIPSE, size=13400, filled=False, stroke=INK, strokeWidth=1, opacity=1).encode(
        x=alt.X("x:Q", scale=xs, axis=None), y=alt.Y("y:Q", scale=ys, axis=None))]


panel_e = scatter_panel(
    [(E_SFB_RIMS, "SFB"), (E_V_RIMS, "V"), (E_DR_RIMS, "Dr"), (E_TH_RIMS, "Th"), (E_LJ_RIMS, "Lj")],
    [(E_SFB_CORES, "SFB"), (E_V_CORES, "V"), (E_REV_V, "V"), (E_TH_CORES, "Th"), (E_DR_CORES, "Dr"),
     (E_REV_DR, "Dr"), (E_LJ_CORES, "Lj")],
    92.0, 14, [0, 2, 4, 6, 8, 10, 12, 14], [1, 3, 5, 7, 9, 11, 13], "d",
    "Al\u2082O\u2083/TiO\u2082", -53, 169, 7, 401, "Mg#", 64, [
        note("e", 16, 22, 18),
        note("Reverse zoned cores", 8, 200, 16),
        note("I1\u03c3", 14, 284, 17),
    ], extra=ellipse_layer)

panel_f = scatter_panel(
    [(F_SFB_RIMS, "SFB"), (F_V_RIMS, "V"), (F_DR_RIMS, "Dr"), (F_TH_RIMS, "Th"), (F_LJ_RIMS, "Lj")],
    [(F_SFB_CORES, "SFB"), (F_V_CORES, "V"), (F_TH_CORES, "Th"), (F_DR_CORES, "Dr"), (F_LJ_CORES, "Lj")],
    92.0, 0.3, [0, 0.1, 0.2, 0.3], [0.05, 0.15, 0.25], ".1f",
    "NiO wt%", -59, 144, 6, 400, "Fo (mol.%)", 62, [
        note("f", 12, 26, 18),
    ])

chart = alt.concat(panel_a, panel_b, panel_c, panel_d, panel_e, panel_f, columns=3,
                   spacing={"row": 79, "column": 66}, bounds="flush").properties(
    padding={"left": 1, "top": -16, "right": 0, "bottom": 0}, background="white"
).configure_view(stroke=INK, strokeWidth=1.2)

chart.save("out.html", embed_options={"renderer": "svg", "actions": False})
